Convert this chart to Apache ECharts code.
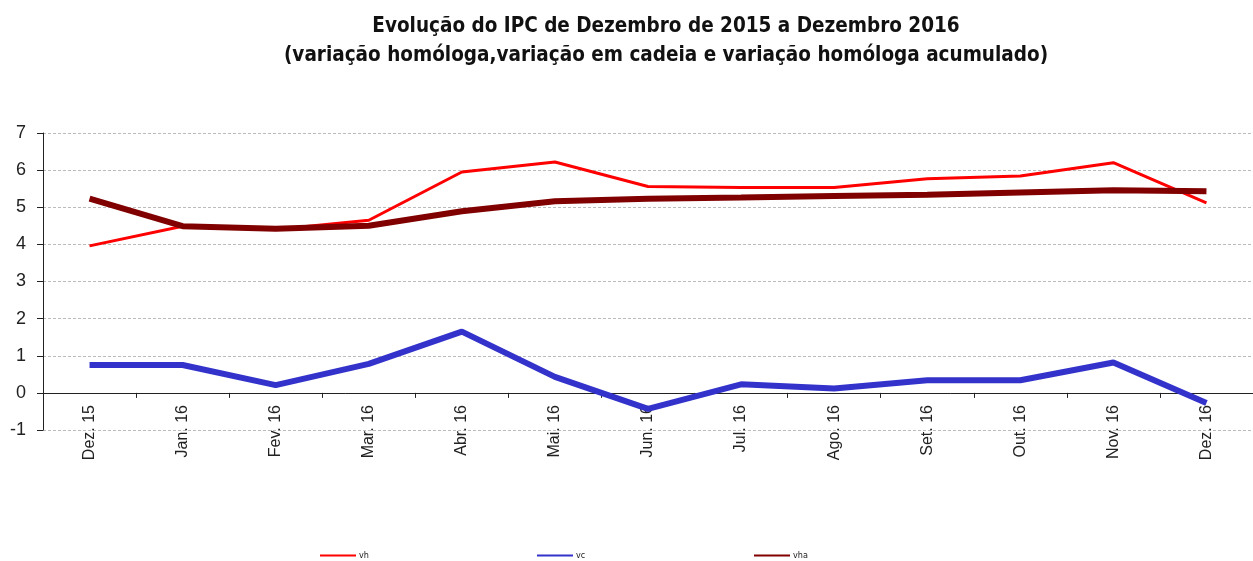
<!DOCTYPE html>
<html><head><meta charset="utf-8">
<script src="https://cdn.jsdelivr.net/npm/echarts@6/dist/echarts.min.js"></script>
<style>html,body{margin:0;padding:0;background:#fff}#c{width:1253px;height:561px}</style>
</head><body><div id="c"></div>
<script>
const categories = ['Dez. 15','Jan. 16','Fev. 16','Mar. 16','Abr. 16','Mai. 16','Jun. 16','Jul. 16','Ago. 16','Set. 16','Out. 16','Nov. 16','Dez. 16'];
const vh  = [3.96, 4.49, 4.40, 4.65, 5.95, 6.22, 5.56, 5.53, 5.53, 5.77, 5.84, 6.20, 5.12];
const vc  = [0.75, 0.75, 0.21, 0.78, 1.65, 0.43, -0.43, 0.23, 0.12, 0.34, 0.34, 0.82, -0.27];
const vha = [5.23, 4.49, 4.42, 4.50, 4.89, 5.16, 5.23, 5.26, 5.30, 5.34, 5.40, 5.46, 5.43];
const yTicks = [-1, 0, 1, 2, 3, 4, 5, 6, 7];

const F = 'DejaVu Sans Condensed, Liberation Sans Narrow, Arial Narrow, sans-serif';
const chart = echarts.init(document.getElementById('c'));
function leg(name, left) {
  return { data: [name], left: left, top: 546, itemWidth: 36, itemHeight: 8, itemGap: 4,
    textStyle: { fontSize: 9, color: '#222', fontFamily: F, padding: [0,0,0,-2] }, icon: 'path://M0,3 L36,3 L36,5 L0,5 Z' };
}
chart.setOption({
  animation: false,
  title: {
    text: 'Evolução do IPC de Dezembro de 2015 a Dezembro 2016\n(variação homóloga,variação em cadeia e variação homóloga acumulado)',
    left: 661, textAlign: 'center', top: 7,
    textStyle: { fontFamily: F, fontWeight: 'bold', fontSize: 20.5, color: '#111', lineHeight: 29 }
  },
  legend: [leg('vh', 315), leg('vc', 532), leg('vha', 749)],
  grid: { left: 43, right: -7, top: 133, bottom: 131 },
  xAxis: {
    type: 'category', data: categories, boundaryGap: true,
    axisLine: { onZero: true, lineStyle: { color: '#222', width: 1 } },
    axisTick: { show: true, length: 5, lineStyle: { color: '#222' } },
    axisLabel: { rotate: 90, fontSize: 16, color: '#222', fontFamily: 'Liberation Sans, Arial, sans-serif', margin: -25 },
    splitLine: { show: false }
  },
  yAxis: {
    type: 'value', min: -1, max: 7, interval: 1,
    axisLine: { show: true, lineStyle: { color: '#222', width: 1 } },
    axisTick: { show: true, length: 6, lineStyle: { color: '#222' } },
    axisLabel: { fontSize: 18, color: '#222', fontFamily: 'Liberation Sans, Arial, sans-serif', margin: 17,
      formatter: v => yTicks.includes(v) ? String(v) : '' },
    splitLine: { show: true, lineStyle: { color: '#bbb', type: [3, 2], width: 1 } }
  },
  series: [
    { name: 'vh', type: 'line', data: vh, symbol: 'none', lineStyle: { color: '#FF0000', width: 3 }, itemStyle: { color: '#FF0000' }, z: 2 },
    { name: 'vc', type: 'line', data: vc, symbol: 'none', lineStyle: { color: '#3333CC', width: 6 }, itemStyle: { color: '#3333CC' }, z: 3 },
    { name: 'vha', type: 'line', data: vha, symbol: 'none', lineStyle: { color: '#800000', width: 6 }, itemStyle: { color: '#800000' }, z: 4 }
  ]
});
</script></body></html>
